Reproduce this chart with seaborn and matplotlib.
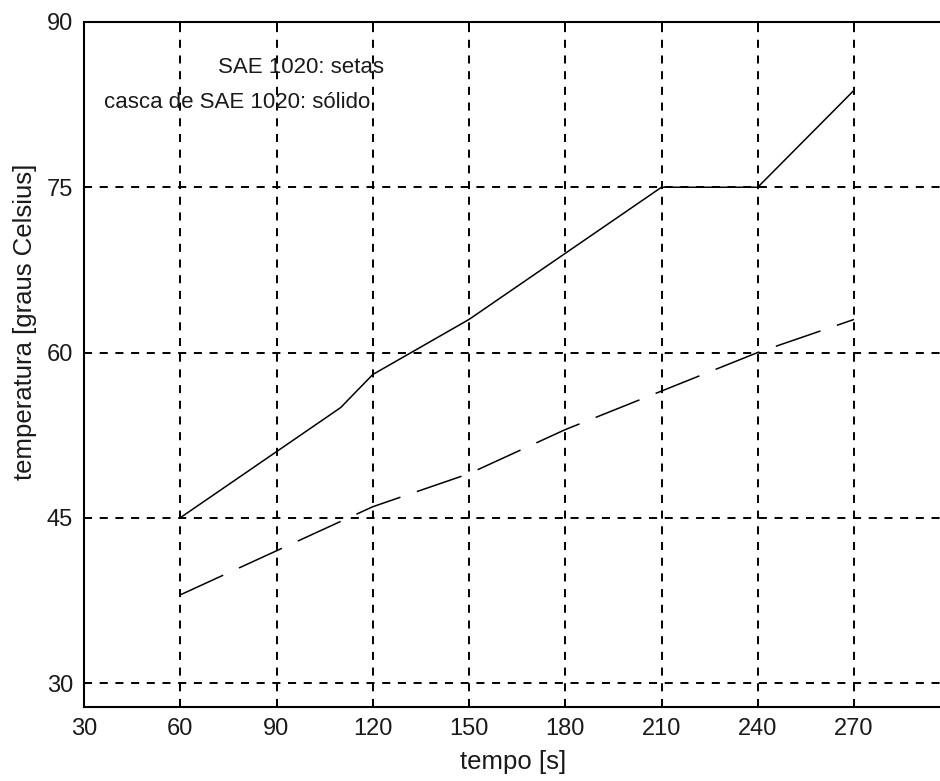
import matplotlib
matplotlib.use("Agg")
import matplotlib.pyplot as plt
import seaborn as sns
import pandas as pd

# Temperature readings over time
tempo_solido = [60, 90, 110, 115, 120, 150, 180, 210, 240, 270]
temp_solido = [45, 51, 55, 56.5, 58, 63, 69, 75, 75, 83.8]

tempo_setas = [60, 90, 120, 150, 180, 210, 240, 270]
temp_setas = [38, 42, 46, 49, 53, 56.5, 60, 63]

x_ticks = [30, 60, 90, 120, 150, 180, 210, 240, 270]
y_ticks = [30, 45, 60, 75, 90]

sns.set_theme(style="white")
plt.rcParams["font.family"] = ["Liberation Sans", "DejaVu Sans"]
plt.rcParams["lines.scale_dashes"] = False

fig = plt.figure(figsize=(9.4, 7.81), dpi=100)
ax = fig.add_axes([84 / 940, 1 - 707 / 781, 1 - 84 / 940, (707 - 22) / 781])

df_solido = pd.DataFrame({"tempo": tempo_solido, "temp": temp_solido})
df_setas = pd.DataFrame({"tempo": tempo_setas, "temp": temp_setas})

sns.lineplot(data=df_solido, x="tempo", y="temp", color="black", lw=1.1,
             ax=ax, zorder=3)
sns.lineplot(data=df_setas, x="tempo", y="temp", color="black", lw=1.1,
             linestyle=(0, (34, 12.5)), ax=ax, zorder=3)

ax.set_xlim(30, 30 + (940 - 84) / ((854 - 84) / 240))
ax.set_ylim(30 - 24 / (661 / 60), 90)
ax.set_xticks(x_ticks)
ax.set_yticks(y_ticks)
ax.set_xticklabels([str(v) for v in x_ticks])
ax.set_yticklabels([str(v) for v in y_ticks])

ax.grid(True, color="black", linestyle=(0, (5.8, 5.5)), lw=1.4)
ax.set_axisbelow(True)

for side in ["left", "bottom", "top"]:
    ax.spines[side].set_color("black")
    ax.spines[side].set_linewidth(1.5)
    ax.spines[side].set_visible(True)
ax.spines["right"].set_visible(False)

ax.tick_params(axis="both", direction="in", length=5, width=1.4,
               colors="black", labelsize=17, pad=8, top=True,
               bottom=True, left=True)
for lab in ax.get_xticklabels() + ax.get_yticklabels():
    lab.set_color("#1a1a1a")

ax.set_xlabel("tempo [s]", fontsize=18.5, color="#1a1a1a")
ax.xaxis.label.set_verticalalignment("center")
ax.xaxis.set_label_coords(513 / 940, 1 - 762 / 781, transform=fig.transFigure)

ax.set_ylabel("temperatura [graus Celsius]", fontsize=18.5, color="#1a1a1a")
ax.yaxis.label.set_verticalalignment("center")
ax.yaxis.set_label_coords(25 / 940, 1 - 322 / 781, transform=fig.transFigure)

ax.text(71.8, 85.9, "SAE 1020: setas", fontsize=16, color="#1a1a1a",
        ha="left", va="center")
ax.text(36.2, 82.7, "casca de SAE 1020: sólido", fontsize=16,
        color="#1a1a1a", ha="left", va="center")

fig.savefig("out.png", dpi=100, facecolor="white")
